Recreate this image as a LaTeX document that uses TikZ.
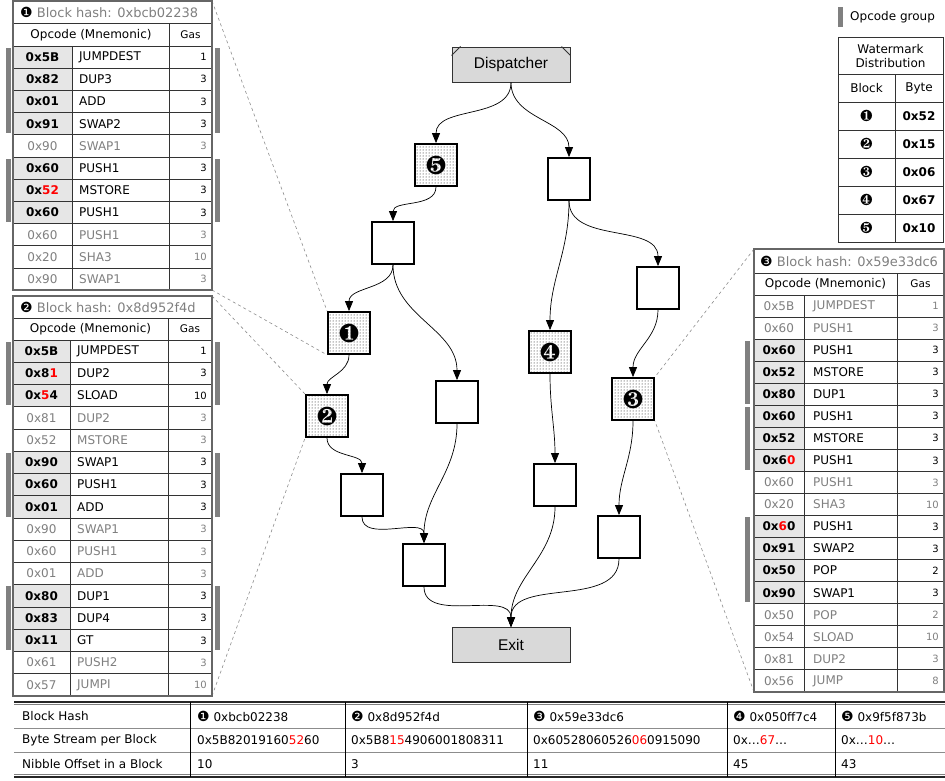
\documentclass[tikz,border=0pt]{standalone}
\usepackage{fontspec}
\setmainfont{DejaVu Sans}
\newfontfamily\arialfont{Liberation Sans}
\usepackage{pifont}
\usetikzlibrary{arrows.meta,patterns}

\definecolor{txtgray}{HTML}{7F7F7F}
\definecolor{opfill}{HTML}{E6E6E6}
\definecolor{barcol}{HTML}{808080}
\definecolor{boxgray}{HTML}{D9D9D9}
\definecolor{linkgray}{HTML}{8C8C8C}
\newcommand{\hl}[1]{\textcolor{red}{#1}}
\newcommand{\tabfont}{\fontsize{12}{14}\selectfont}
\newcommand{\gasfont}{\fontsize{10}{11}\selectfont}
\newcommand{\bnum}[1]{\textcolor{black}{\fontsize{14}{14}\selectfont #1}}

\tikzset{
  cellline/.style={draw=black!80, line width=0.8pt},
  tabframe/.style={draw=black!60, line width=1.4pt},
  cell0/.style={fill=white},
  cell1/.style={fill=opfill},
  op0/.style={font=\tabfont, text=txtgray, inner sep=0pt},
  op1/.style={font=\tabfont\bfseries, text=black, inner sep=0pt},
  mn0/.style={font=\tabfont, text=txtgray, anchor=west, inner sep=0pt},
  mn1/.style={font=\tabfont, text=black, anchor=west, inner sep=0pt},
  gas0/.style={font=\gasfont, text=txtgray, anchor=east, inner sep=0pt},
  gas1/.style={font=\gasfont, text=black, anchor=east, inner sep=0pt},
  hashtxt/.style={font=\fontsize{13}{15}\selectfont, text=txtgray, anchor=west, inner sep=0pt},
  hdtxt/.style={font=\tabfont, inner sep=0pt},
  gashd/.style={font=\fontsize{10.5}{12}\selectfont, inner sep=0pt},
  btxt/.style={font=\tabfont, anchor=west, inner sep=0pt},
  grpbar/.style={fill=barcol},
  blk/.style={draw, line width=1.8pt, minimum size=42pt, inner sep=0pt, fill=white},
  wmblk/.style={draw, line width=1.8pt, minimum size=42pt, inner sep=0pt, pattern=dots,
    font=\fontsize{26}{26}\selectfont},
  term/.style={draw=black!80, line width=1pt, fill=boxgray, minimum width=118pt,
    minimum height=35pt, font=\arialfont\fontsize{15.5}{17}\selectfont},
  edge/.style={line width=0.7pt, -{Triangle[length=10pt,width=8pt]}},
  zoomline/.style={draw=linkgray, dashed, line width=0.6pt},
}

\begin{document}
\begin{tikzpicture}[x=1pt, y=-1pt]
\useasboundingbox (0,0) rectangle (945,780);

% control flow graph
\node[term] (disp) at (511,64.5) {Dispatcher};
\draw[black!80, line width=0.8pt] (disp.north west) ++(0,9) -- ++(9,-9);
\draw[black!80, line width=0.8pt] (disp.north east) ++(0,9) -- ++(-9,-9);
\node[term] (ex) at (511,645) {Exit};

\node[wmblk] (wm1) at (349,333) {\ding{182}};
\node[wmblk] (wm2) at (327,416) {\ding{183}};
\node[wmblk] (wm3) at (633,399) {\ding{184}};
\node[wmblk] (wm4) at (550,352) {\ding{185}};
\node[wmblk] (wm5) at (436,165) {\ding{186}};

\node[blk] (bb1) at (569,179) {};
\node[blk] (bb2) at (393,243) {};
\node[blk] (bb3) at (457,402) {};
\node[blk] (bb4) at (658,288) {};
\node[blk] (bb5) at (362,495) {};
\node[blk] (bb6) at (424,565) {};
\node[blk] (bb7) at (555,485) {};
\node[blk] (bb8) at (619,537) {};

\foreach \a/\b in {disp/wm5, disp/bb1, wm5/bb2, bb2/wm1, bb2/bb3, wm1/wm2, wm2/bb5,
  bb5/bb6, bb3/bb6, bb6/ex, bb1/wm4, bb1/bb4, bb4/wm3, wm3/bb8, wm4/bb7, bb7/ex, bb8/ex}
  \draw[edge] (\a.south) to[out=-90,in=90] (\b.north);

% zoom lines from the blocks to their tables
\coordinate (t1ne) at (212,1);
\coordinate (t1se) at (212,290);
\coordinate (t2ne) at (212,296);
\coordinate (t2se) at (212,696);
\coordinate (t3nw) at (754,249);
\coordinate (t3sw) at (754,692);
\draw[zoomline] (t1ne) -- (wm1.north west);
\draw[zoomline] (t1se) -- (wm1.south west);
\draw[zoomline] (t2ne) -- (wm2.north west);
\draw[zoomline] (t2se) -- (wm2.south west);
\draw[zoomline] (t3nw) -- (wm3.north east);
\draw[zoomline] (t3sw) -- (wm3.south east);

% table of block 1
\draw[cellline] (13,1) rectangle (212,23);
\draw[cellline] (13,23) rectangle (169,46);
\draw[cellline] (169,23) rectangle (212,46);
\node[hashtxt] (t1hash) at (20,12) {\bnum{❶} Block hash: 0xbcb02238};
\node[hdtxt] (t1hd) at (91,35) {Opcode (Mnemonic)};
\node[gashd] (t1gas) at (190.5,35) {Gas};
\foreach \i/\op/\mn/\gas/\g in {1/0x5B/JUMPDEST/1/1, 2/0x82/DUP3/3/1, 3/0x01/ADD/3/1,
  4/0x91/SWAP2/3/1, 5/0x90/SWAP1/3/0, 6/0x60/PUSH1/3/1, 7/{0x\hl{52}}/MSTORE/3/1,
  8/0x60/PUSH1/3/1, 9/0x60/PUSH1/3/0, 10/0x20/SHA3/10/0, 11/0x90/SWAP1/3/0} {
  \pgfmathsetmacro\yt{46+(\i-1)*22.2}
  \pgfmathsetmacro\yb{\yt+22.2}
  \pgfmathsetmacro\ym{\yt+11.1}
  \draw[cellline, cell\g] (13,\yt) rectangle (72,\yb);
  \draw[cellline] (72,\yt) rectangle (169,\yb);
  \draw[cellline] (169,\yt) rectangle (212,\yb);
  \node[op\g] (t1op\i) at (42.5,\ym) {\op};
  \node[mn\g] (t1mn\i) at (79,\ym) {\mn};
  \node[gas\g] (t1gas\i) at (207,\ym) {\gas};
}
\draw[tabframe] (13,1) rectangle (212,290);
\foreach \a/\b in {1/4, 6/8} {
  \pgfmathsetmacro\ya{46+(\a-1)*22.2+1.5}
  \pgfmathsetmacro\yb{46+\b*22.2-1.5}
  \fill[grpbar] (6,\ya) rectangle (11,\yb);
  \fill[grpbar] (215,\ya) rectangle (220,\yb);
}

% table of block 2
\draw[cellline] (13,296) rectangle (212,318);
\draw[cellline] (13,318) rectangle (168,340);
\draw[cellline] (168,318) rectangle (212,340);
\node[hashtxt] (t2hash) at (20,307) {\bnum{❷} Block hash: 0x8d952f4d};
\node[hdtxt] (t2hd) at (90.5,329) {Opcode (Mnemonic)};
\node[gashd] (t2gas) at (190,329) {Gas};
\foreach \i/\op/\mn/\gas/\g in {1/0x5B/JUMPDEST/1/1, 2/{0x8\hl{1}}/DUP2/3/1,
  3/{0x\hl{5}4}/SLOAD/10/1, 4/0x81/DUP2/3/0, 5/0x52/MSTORE/3/0, 6/0x90/SWAP1/3/1,
  7/0x60/PUSH1/3/1, 8/0x01/ADD/3/1, 9/0x90/SWAP1/3/0, 10/0x60/PUSH1/3/0,
  11/0x01/ADD/3/0, 12/0x80/DUP1/3/1, 13/0x83/DUP4/3/1, 14/0x11/GT/3/1,
  15/0x61/PUSH2/3/0, 16/0x57/JUMPI/10/0} {
  \pgfmathsetmacro\yt{340+(\i-1)*22.25}
  \pgfmathsetmacro\yb{\yt+22.25}
  \pgfmathsetmacro\ym{\yt+11.1}
  \draw[cellline, cell\g] (13,\yt) rectangle (70,\yb);
  \draw[cellline] (70,\yt) rectangle (168,\yb);
  \draw[cellline] (168,\yt) rectangle (212,\yb);
  \node[op\g] (t2op\i) at (41.5,\ym) {\op};
  \node[mn\g] (t2mn\i) at (77,\ym) {\mn};
  \node[gas\g] (t2gas\i) at (207,\ym) {\gas};
}
\draw[tabframe] (13,296) rectangle (212,696);
\foreach \a/\b in {1/3, 6/8, 12/14} {
  \pgfmathsetmacro\ya{340+(\a-1)*22.25+1.5}
  \pgfmathsetmacro\yb{340+\b*22.25-1.5}
  \fill[grpbar] (6,\ya) rectangle (11,\yb);
  \fill[grpbar] (215,\ya) rectangle (220,\yb);
}

% table of block 3
\draw[cellline] (754,249) rectangle (944,273);
\draw[cellline] (754,273) rectangle (897,295);
\draw[cellline] (897,273) rectangle (944,295);
\node[hashtxt] (t3hash) at (760,261) {\bnum{❸} Block hash: 0x59e33dc6};
\node[hdtxt] (t3hd) at (825.5,284) {Opcode (Mnemonic)};
\node[gashd] (t3gas) at (920.5,284) {Gas};
\foreach \i/\op/\mn/\gas/\g in {1/0x5B/JUMPDEST/1/0, 2/0x60/PUSH1/3/0, 3/0x60/PUSH1/3/1,
  4/0x52/MSTORE/3/1, 5/0x80/DUP1/3/1, 6/0x60/PUSH1/3/1, 7/0x52/MSTORE/3/1,
  8/{0x6\hl{0}}/PUSH1/3/1, 9/0x60/PUSH1/3/0, 10/0x20/SHA3/10/0, 11/{0x\hl{6}0}/PUSH1/3/1,
  12/0x91/SWAP2/3/1, 13/0x50/POP/2/1, 14/0x90/SWAP1/3/1, 15/0x50/POP/2/0,
  16/0x54/SLOAD/10/0, 17/0x81/DUP2/3/0, 18/0x56/JUMP/8/0} {
  \pgfmathsetmacro\yt{295+(\i-1)*22.05}
  \pgfmathsetmacro\yb{\yt+22.05}
  \pgfmathsetmacro\ym{\yt+11}
  \draw[cellline, cell\g] (754,\yt) rectangle (804,\yb);
  \draw[cellline] (804,\yt) rectangle (897,\yb);
  \draw[cellline] (897,\yt) rectangle (944,\yb);
  \node[op\g] (t3op\i) at (779,\ym) {\op};
  \node[mn\g] (t3mn\i) at (813,\ym) {\mn};
  \node[gas\g] (t3gas\i) at (939,\ym) {\gas};
}
\draw[tabframe] (754,249) rectangle (944,692);
\foreach \a/\b in {3/5, 6/8, 11/14} {
  \pgfmathsetmacro\ya{295+(\a-1)*22.05+1.5}
  \pgfmathsetmacro\yb{295+\b*22.05-1.5}
  \fill[grpbar] (745,\ya) rectangle (750,\yb);
}

% legend and watermark distribution
\fill[grpbar] (838,7) rectangle (843,27);
\node[btxt] (lgd) at (850,17) {Opcode group};
\draw[cellline] (838,37) rectangle (943,74);
\node[hdtxt, align=center] (wmhd) at (890.5,56) {Watermark\\Distribution};
\draw[cellline] (838,74) rectangle (895,102);
\draw[cellline] (895,74) rectangle (943,102);
\node[hdtxt] (wmblkhd) at (866.5,88) {Block};
\node[hdtxt] (wmbytehd) at (919,88) {Byte};
\foreach \i/\d/\v in {1/182/0x52, 2/183/0x15, 3/184/0x06, 4/185/0x67, 5/186/0x10} {
  \pgfmathsetmacro\yt{102+(\i-1)*28}
  \pgfmathsetmacro\yb{\yt+28}
  \pgfmathsetmacro\ym{\yt+14}
  \draw[cellline] (838,\yt) rectangle (895,\yb);
  \draw[cellline] (895,\yt) rectangle (943,\yb);
  \node[font=\fontsize{16}{16}\selectfont, inner sep=0pt] (wmb\i) at (866.5,\ym) {\ding{\d}};
  \node[op1] (wmv\i) at (919,\ym) {\v};
}

% byte stream table
\draw[black!85, line width=1.2pt] (14,702) -- (945,702);
\draw[black!50, line width=0.8pt] (14,704.5) -- (945,704.5);
\draw[black!45, line width=0.8pt] (14,728) -- (945,728);
\draw[black!45, line width=0.8pt] (14,752) -- (945,752);
\draw[black!50, line width=0.8pt] (14,774.5) -- (945,774.5);
\draw[black!85, line width=1.2pt] (14,777) -- (945,777);
\foreach \x in {190,345,527,727,835}
  \draw[black, line width=0.8pt] (\x,702) -- (\x,777);
\foreach \x/\t [count=\c] in {22/Block Hash, 197/{\bnum{❶} 0xbcb02238}, 351/{\bnum{❷} 0x8d952f4d},
  533/{\bnum{❸} 0x59e33dc6}, 733/{\bnum{❹} 0x050ff7c4}, 841/{\bnum{❺} 0x9f5f873b}}
  \node[btxt] (bh\c) at (\x,716) {\t};
\foreach \x/\t [count=\c] in {22/Byte Stream per Block, 197/{0x5B82019160\hl{52}60},
  351/{0x5B8\hl{15}4906001808311}, 533/{0x60528060526\hl{06}0915090},
  733/{0x…\hl{67}…}, 841/{0x…\hl{10}…}}
  \node[btxt] (bs\c) at (\x,740) {\t};
\foreach \x/\t [count=\c] in {22/Nibble Offset in a Block, 197/10, 351/3, 533/11, 733/45, 841/43}
  \node[btxt] (no\c) at (\x,764) {\t};
\end{tikzpicture}
\end{document}
